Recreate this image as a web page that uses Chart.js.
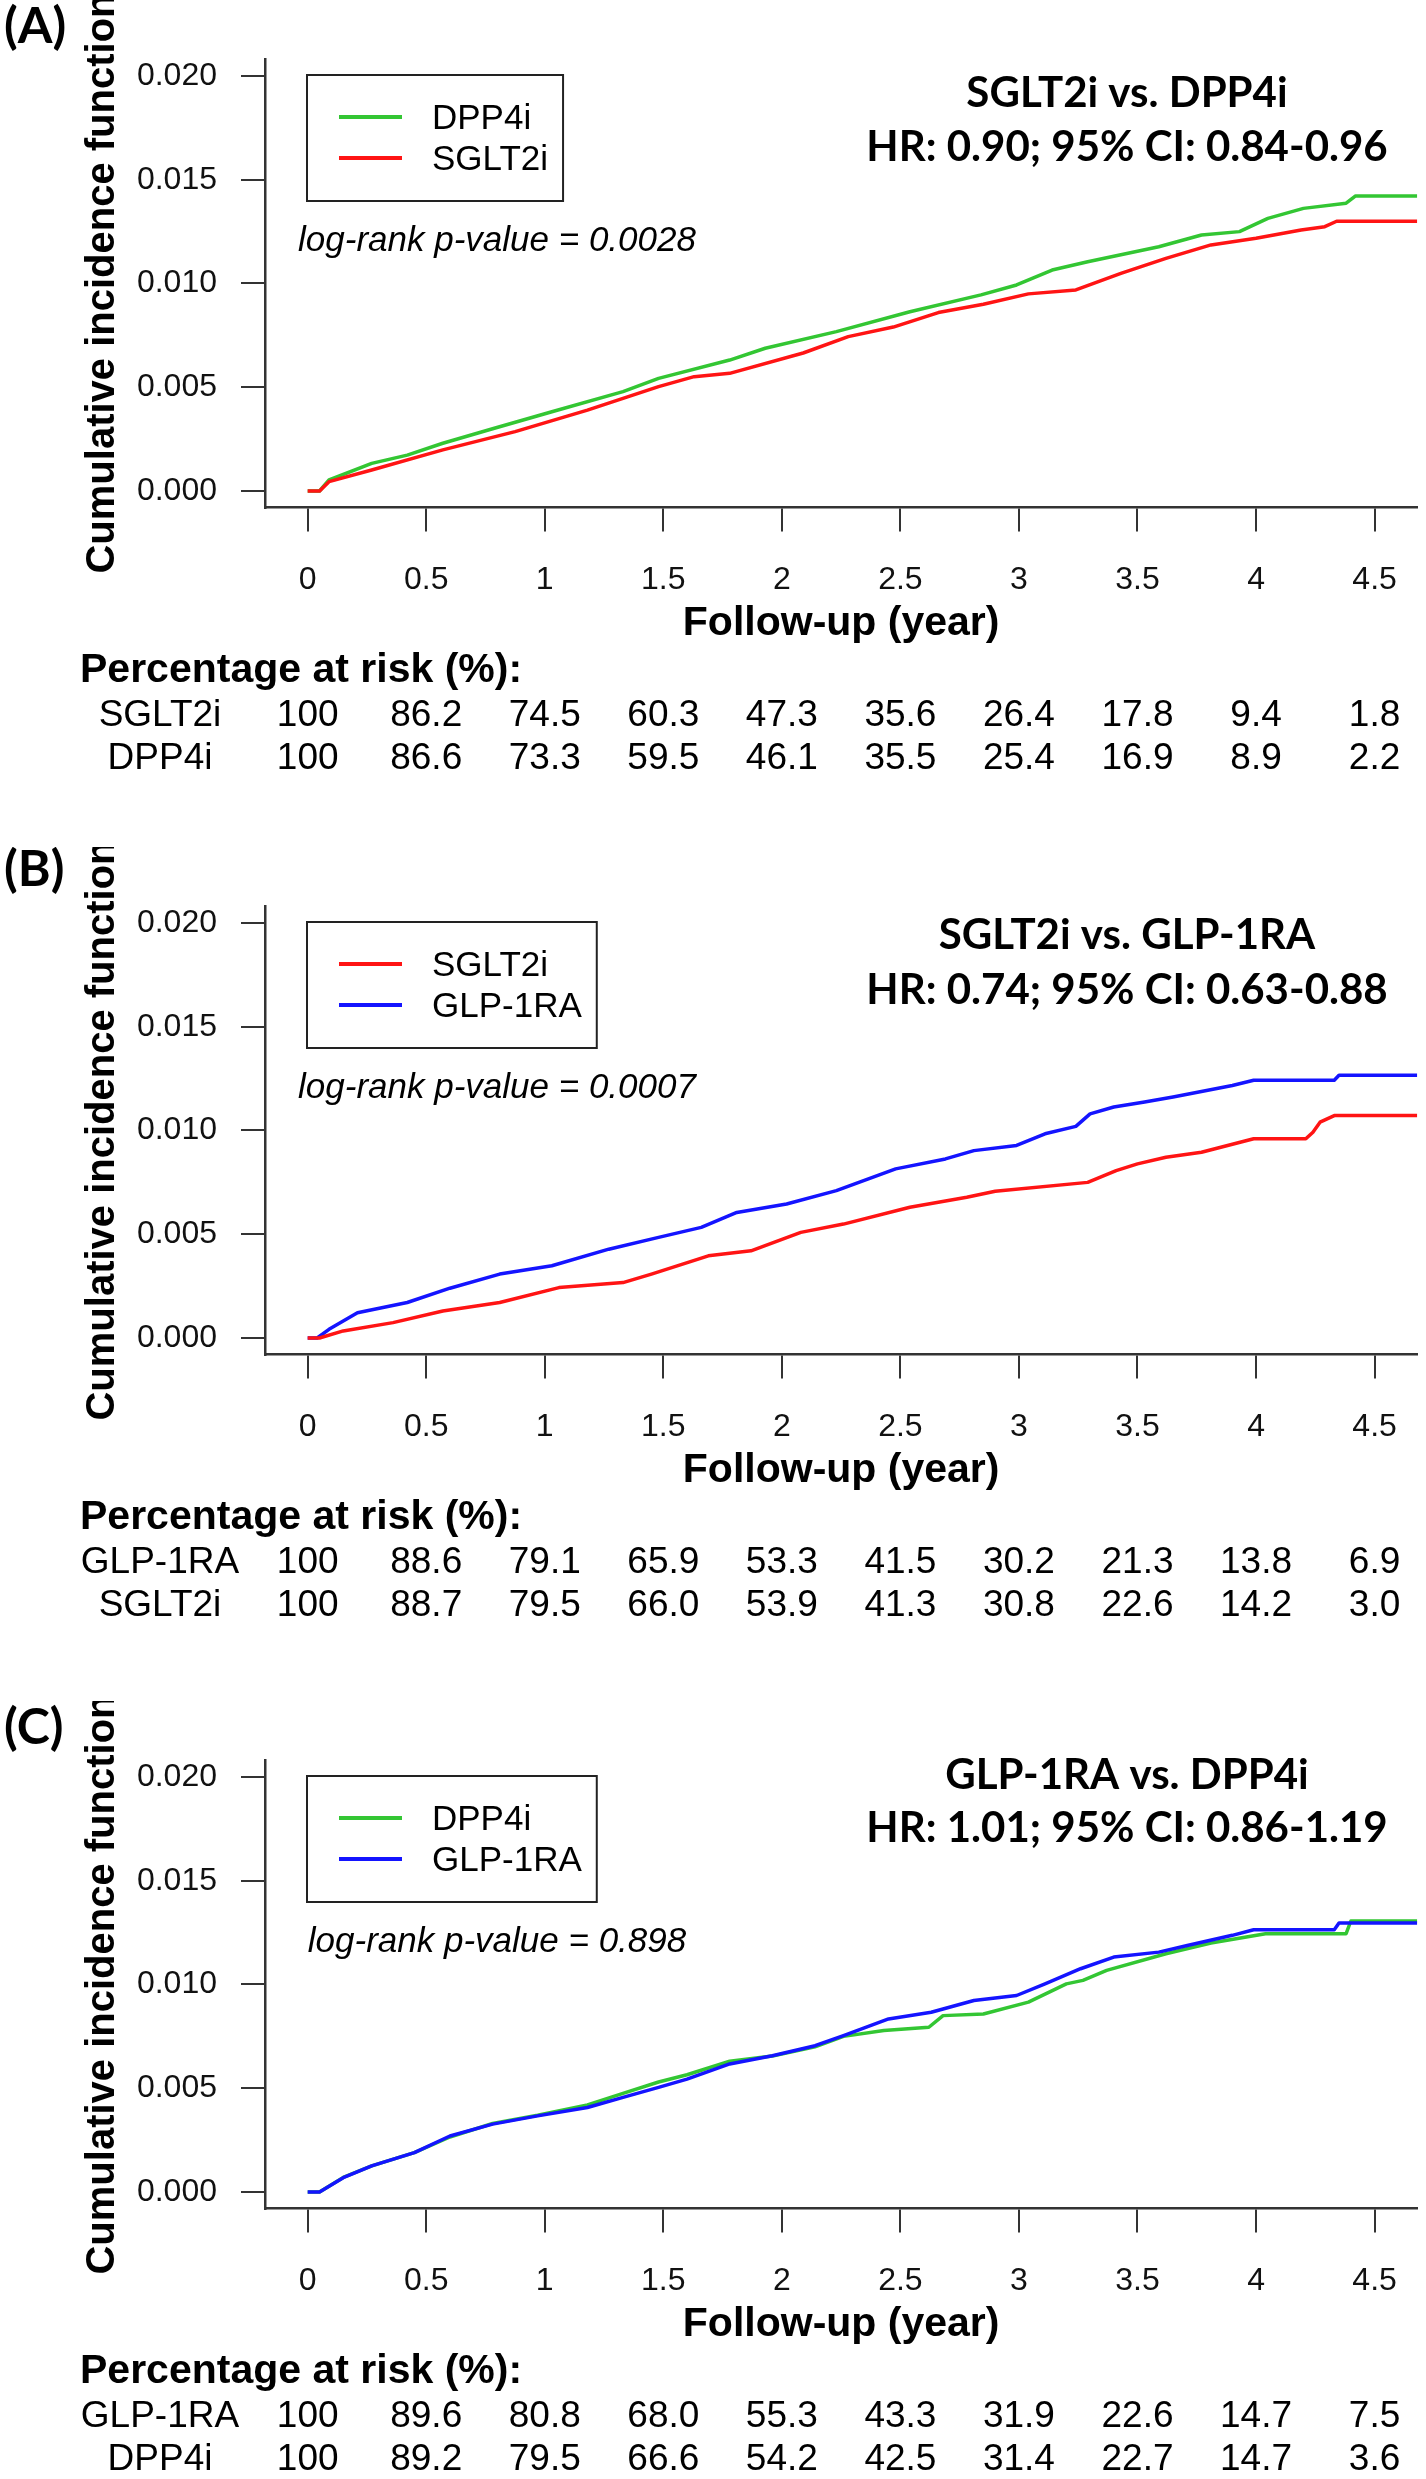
<!DOCTYPE html>
<html>
<head>
<meta charset="utf-8">
<script src="https://cdn.jsdelivr.net/npm/chart.js@4.4.1/dist/chart.umd.min.js"></script>
<style>
  html, body { margin: 0; padding: 0; background: #fff; }
  body { width: 1426px; height: 2479px; position: relative; overflow: hidden; }
  canvas { position: absolute; left: 0; }
</style>
</head>
<body>
<canvas id="panelA" width="1426" height="778" style="top:0px;width:1426px;height:778px"></canvas>
<canvas id="panelB" width="1426" height="778" style="top:847px;width:1426px;height:778px"></canvas>
<canvas id="panelC" width="1426" height="778" style="top:1701px;width:1426px;height:778px"></canvas>
<script>
const FONT_AXIS = '"Liberation Sans", Arial, sans-serif';
const FONT_HEAD = 'Lato, "Open Sans", sans-serif';

const GREEN = '#33c633';
const RED = '#ff1414';
const BLUE = '#1414ff';

const yearTicks = [0, 0.5, 1, 1.5, 2, 2.5, 3, 3.5, 4, 4.5];
const cifTicks = [0, 0.005, 0.010, 0.015, 0.020];

// (A) SGLT2i vs DPP4i
const timeA_dpp4 = [0, 0.05, 0.09, 0.27, 0.42, 0.57, 0.78, 1.03, 1.33, 1.48, 1.78, 1.93, 2.23, 2.54, 2.84, 2.99, 3.14, 3.29, 3.59, 3.77, 3.93, 4.05, 4.20, 4.38, 4.42, 4.68];
const cifA_dpp4 = [0, 0, 0.00053, 0.00133, 0.00173, 0.0023, 0.0030, 0.00382, 0.00479, 0.00543, 0.00631, 0.00688, 0.00768, 0.00864, 0.00945, 0.00993, 0.01065, 0.01105, 0.01177, 0.01234, 0.0125, 0.01314, 0.01362, 0.01387, 0.01422, 0.01422];
const timeA_sglt2 = [0, 0.05, 0.09, 0.27, 0.57, 0.875, 1.18, 1.48, 1.63, 1.78, 2.09, 2.28, 2.47, 2.66, 2.85, 3.04, 3.24, 3.43, 3.62, 3.81, 4.0, 4.19, 4.29, 4.34, 4.68];
const cifA_sglt2 = [0, 0, 0.00045, 0.00101, 0.00198, 0.00286, 0.0039, 0.00503, 0.00551, 0.00567, 0.00665, 0.00744, 0.0079, 0.0086, 0.009, 0.0095, 0.00969, 0.01049, 0.01121, 0.01186, 0.01218, 0.01258, 0.01274, 0.013, 0.013];
const riskA_sglt2 = [100, 86.2, 74.5, 60.3, 47.3, 35.6, 26.4, 17.8, 9.4, 1.8];
const riskA_dpp4 = [100, 86.6, 73.3, 59.5, 46.1, 35.5, 25.4, 16.9, 8.9, 2.2];

// (B) SGLT2i vs GLP-1RA
const timeB_sglt2 = [0, 0.05, 0.15, 0.36, 0.57, 0.81, 1.06, 1.33, 1.45, 1.69, 1.87, 2.08, 2.26, 2.54, 2.78, 2.90, 3.29, 3.41, 3.50, 3.62, 3.77, 3.99, 4.21, 4.24, 4.27, 4.33, 4.68];
const cifB_sglt2 = [0, 0, 0.00034, 0.00074, 0.0013, 0.00171, 0.00243, 0.00267, 0.00308, 0.00396, 0.0042, 0.00509, 0.00549, 0.0063, 0.00678, 0.00707, 0.0075, 0.00807, 0.00839, 0.00871, 0.00895, 0.0096, 0.0096, 0.00992, 0.0104, 0.01072, 0.01072];
const timeB_glp1 = [0, 0.04, 0.09, 0.21, 0.42, 0.60, 0.81, 1.03, 1.27, 1.48, 1.66, 1.81, 2.02, 2.23, 2.48, 2.69, 2.81, 2.99, 3.11, 3.24, 3.30, 3.40, 3.53, 3.65, 3.90, 3.99, 4.33, 4.35, 4.68];
const cifB_glp1 = [0, 0, 0.00042, 0.00122, 0.00171, 0.0024, 0.00308, 0.00348, 0.00428, 0.00485, 0.00533, 0.00605, 0.00646, 0.0071, 0.00815, 0.00863, 0.00903, 0.00928, 0.00984, 0.0102, 0.0108, 0.01113, 0.01137, 0.01161, 0.01217, 0.01242, 0.01242, 0.01266, 0.01266];
const riskB_glp1 = [100, 88.6, 79.1, 65.9, 53.3, 41.5, 30.2, 21.3, 13.8, 6.9];
const riskB_sglt2 = [100, 88.7, 79.5, 66.0, 53.9, 41.3, 30.8, 22.6, 14.2, 3.0];

// (C) GLP-1RA vs DPP4i
const timeC_dpp4 = [0, 0.05, 0.15, 0.27, 0.45, 0.60, 0.78, 0.97, 1.18, 1.33, 1.48, 1.60, 1.78, 1.96, 2.14, 2.26, 2.43, 2.62, 2.68, 2.85, 3.04, 3.20, 3.27, 3.37, 3.62, 3.81, 4.04, 4.38, 4.40, 4.68];
const cifC_dpp4 = [0, 0, 0.0007, 0.00126, 0.0019, 0.00265, 0.0033, 0.0037, 0.0042, 0.00475, 0.0053, 0.00565, 0.0063, 0.00655, 0.007, 0.0075, 0.00778, 0.00794, 0.0085, 0.00858, 0.00915, 0.01003, 0.0102, 0.01068, 0.01148, 0.012, 0.01245, 0.01245, 0.01306, 0.01306];
const timeC_glp1 = [0, 0.05, 0.15, 0.27, 0.45, 0.60, 0.78, 0.97, 1.18, 1.33, 1.48, 1.60, 1.78, 1.96, 2.14, 2.26, 2.45, 2.63, 2.81, 2.99, 3.11, 3.26, 3.40, 3.59, 3.71, 3.90, 3.99, 4.33, 4.35, 4.68];
const cifC_glp1 = [0, 0, 0.00069, 0.00126, 0.0019, 0.0027, 0.00327, 0.00367, 0.00407, 0.00456, 0.00504, 0.00544, 0.00617, 0.00657, 0.00705, 0.00754, 0.00834, 0.00866, 0.00923, 0.00947, 0.01003, 0.01076, 0.01132, 0.01156, 0.01188, 0.01237, 0.01264, 0.01264, 0.01296, 0.01296];
const riskC_glp1 = [100, 89.6, 80.8, 68.0, 55.3, 43.3, 31.9, 22.6, 14.7, 7.5];
const riskC_dpp4 = [100, 89.2, 79.5, 66.6, 54.2, 42.5, 31.4, 22.7, 14.7, 3.6];

const pts = (t, v) => t.map((x, i) => ({ x: x, y: v[i] }));
const fmtRisk = v => v === 100 ? '100' : v.toFixed(1);

function curve(label, t, v, color, order) {
    return {
        label: label,
        data: pts(t, v),
        borderColor: color,
        backgroundColor: color,
        borderWidth: 3.5,
        borderJoinStyle: 'round',
        pointRadius: 0,
        tension: 0,
        fill: false,
        order: order
    };
}

// text, legend box and risk table drawn on top of the chart
function annotations(cfg) {
    return {
        id: 'annotations',
        afterDraw(chart) {
            const ctx = chart.ctx;
            const xs = chart.scales.x;
            const area = chart.chartArea;
            ctx.save();
            ctx.fillStyle = '#000';
            ctx.textBaseline = 'middle';

            ctx.textAlign = 'left';
            ctx.font = `bold 50px ${FONT_HEAD}`;
            ctx.fillText(cfg.letter, 4, cfg.letterY);

            ctx.textAlign = 'center';
            ctx.font = `bold 42px ${FONT_HEAD}`;
            cfg.title.forEach((line, i) => ctx.fillText(line, 1127, cfg.titleY[i]));

            // y axis title (no width squeeze, it runs off the top like the original)
            ctx.save();
            ctx.translate(103, (area.top + area.bottom) / 2);
            ctx.rotate(-Math.PI / 2);
            ctx.font = `bold 40px ${FONT_AXIS}`;
            ctx.textAlign = 'center';
            ctx.fillText('Cumulative incidence function', 0, 0);
            ctx.restore();

            // legend
            const ds = chart.data.datasets;
            ctx.font = `35px ${FONT_AXIS}`;
            const textW = Math.max(...ds.map(d => ctx.measureText(d.label).width));
            ctx.strokeStyle = '#222';
            ctx.lineWidth = 2;
            ctx.strokeRect(307, 75, 432 + textW + 15 - 307, 126);
            ds.forEach((d, i) => {
                const y = 117 + i * 41;
                ctx.strokeStyle = d.borderColor;
                ctx.lineWidth = 4;
                ctx.beginPath();
                ctx.moveTo(339, y);
                ctx.lineTo(402, y);
                ctx.stroke();
                ctx.textAlign = 'left';
                ctx.fillText(d.label, 432, y + 2);
            });

            ctx.font = `italic 35px ${FONT_AXIS}`;
            ctx.textAlign = 'center';
            ctx.fillText(cfg.pValue, 497, 241);

            // percentage at risk
            ctx.textAlign = 'left';
            ctx.font = `bold 41px ${FONT_AXIS}`;
            ctx.fillText('Percentage at risk (%):', 80, 671);
            ctx.font = `37px ${FONT_AXIS}`;
            cfg.risk.forEach((row, r) => {
                const y = 716 + r * 43;
                ctx.textAlign = 'center';
                ctx.fillText(row.name, 160, y);
                row.values.forEach((v, j) => {
                    ctx.fillText(fmtRisk(v), xs.getPixelForValue(yearTicks[j]), y);
                });
            });
            ctx.restore();
        }
    };
}

const axisGrid = { drawOnChartArea: false, drawTicks: true, tickLength: 24, lineWidth: 2, tickWidth: 2, tickColor: '#333' };
const axisBorder = { display: true, color: '#333', width: 2.5 };

function makePanel(id, datasets, cfg) {
    new Chart(document.getElementById(id), {
        type: 'line',
        data: { datasets: datasets },
        options: {
            responsive: false,
            animation: false,
            events: [],
            layout: { padding: { top: 59.4, right: 5, bottom: 0, left: 0 } },
            plugins: {
                legend: { display: false },
                tooltip: { enabled: false }
            },
            scales: {
                x: {
                    type: 'linear',
                    min: -0.18,
                    max: 4.68,
                    afterBuildTicks: s => { s.ticks = yearTicks.map(v => ({ value: v })); },
                    afterFit: s => { s.height = 270.4; },
                    ticks: {
                        font: { family: FONT_AXIS, size: 32 },
                        color: '#111',
                        padding: 29,
                        maxRotation: 0,
                        autoSkip: false,
                        callback: v => String(v)
                    },
                    grid: axisGrid,
                    border: axisBorder,
                    title: {
                        display: true,
                        text: 'Follow-up (year)',
                        color: '#000',
                        font: { family: FONT_AXIS, size: 41, weight: 'bold' },
                        padding: { top: 0, bottom: 130 }
                    }
                },
                y: {
                    type: 'linear',
                    min: -0.0008,
                    max: 0.0208,
                    afterBuildTicks: s => { s.ticks = cifTicks.map(v => ({ value: v })); },
                    afterFit: s => { s.width = 265; },
                    ticks: {
                        font: { family: FONT_AXIS, size: 32 },
                        color: '#111',
                        padding: 24,
                        callback: v => v.toFixed(3)
                    },
                    grid: axisGrid,
                    border: axisBorder
                }
            }
        },
        plugins: [annotations(cfg)]
    });
}

makePanel('panelA', [
    curve('DPP4i', timeA_dpp4, cifA_dpp4, GREEN, 1),
    curve('SGLT2i', timeA_sglt2, cifA_sglt2, RED, 0)
], {
    letter: '(A)', letterY: 27,
    title: ['SGLT2i vs. DPP4i', 'HR: 0.90; 95% CI: 0.84-0.96'], titleY: [93, 147],
    pValue: 'log-rank p-value = 0.0028',
    risk: [{ name: 'SGLT2i', values: riskA_sglt2 }, { name: 'DPP4i', values: riskA_dpp4 }]
});

makePanel('panelB', [
    curve('SGLT2i', timeB_sglt2, cifB_sglt2, RED, 0),
    curve('GLP-1RA', timeB_glp1, cifB_glp1, BLUE, 1)
], {
    letter: '(B)', letterY: 23,
    title: ['SGLT2i vs. GLP-1RA', 'HR: 0.74; 95% CI: 0.63-0.88'], titleY: [88, 143],
    pValue: 'log-rank p-value = 0.0007',
    risk: [{ name: 'GLP-1RA', values: riskB_glp1 }, { name: 'SGLT2i', values: riskB_sglt2 }]
});

makePanel('panelC', [
    curve('DPP4i', timeC_dpp4, cifC_dpp4, GREEN, 1),
    curve('GLP-1RA', timeC_glp1, cifC_glp1, BLUE, 0)
], {
    letter: '(C)', letterY: 27,
    title: ['GLP-1RA vs. DPP4i', 'HR: 1.01; 95% CI: 0.86-1.19'], titleY: [74, 127],
    pValue: 'log-rank p-value = 0.898',
    risk: [{ name: 'GLP-1RA', values: riskC_glp1 }, { name: 'DPP4i', values: riskC_dpp4 }]
});
</script>
</body>
</html>
